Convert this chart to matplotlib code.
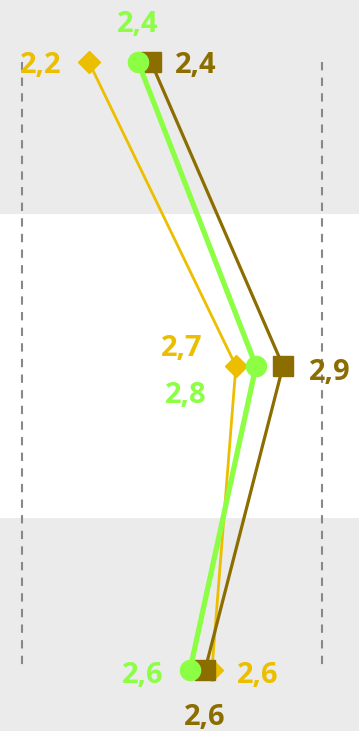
import matplotlib
matplotlib.use("Agg")
import matplotlib.pyplot as plt

# Rows (top to bottom) and series values
rows = [0, 1, 2]
yellow_vals = [2.223, 2.713, 2.633]
green_vals = [2.387, 2.780, 2.560]
brown_vals = [2.430, 2.870, 2.610]
axis_min, axis_max = 2.0, 3.0

def fmt(v):
    return f"{v:.1f}".replace(".", ",")

plt.rcParams['font.family'] = ['Open Sans', 'DejaVu Sans']

fig = plt.figure(figsize=(3.59, 7.31), dpi=100)
ax = fig.add_axes([0, 0, 1, 1])
ax.set_xlim(axis_min - 22 / 300, axis_min + 337 / 300)
ax.set_ylim(669 / 304, -62 / 304)
ax.axis('off')

grey = '#EBEBEB'
ax.axhspan(-0.5, 0.5, color=grey, zorder=0, lw=0)
ax.axhspan(0.5, 1.5, color='white', zorder=0, lw=0)
ax.axhspan(1.5, 2.5, color=grey, zorder=0, lw=0)

ax.vlines([axis_min, axis_max], rows[0], rows[-1], colors='#888888',
          linestyles=(0, (4, 3.5)), linewidth=1.5, zorder=1)

c_y, c_g, c_b = '#EBBF00', '#8CFF44', '#8B6D00'

ax.plot(yellow_vals, rows, color=c_y, lw=2.0, marker='D', ms=11, zorder=3,
        solid_capstyle='round')
ax.plot(brown_vals, rows, color=c_b, lw=2.3, marker='s', ms=14, zorder=4)
ax.plot(green_vals, rows, color=c_g, lw=3.8, marker='o', ms=14.5, zorder=5)

# label placement (pixel offsets from the point, alignment)
offsets = {
    'y': [(-27, -11, 'right'), (-33, 10, 'right'), (25, -13, 'left')],
    'g': [(0, 30, 'center'), (-49, -37, 'right'), (-27, -13, 'right')],
    'b': [(24, -11, 'left'), (26, -14, 'left'), (0, -55, 'center')],
}
for key, vals, col in [('y', yellow_vals, c_y), ('g', green_vals, c_g),
                       ('b', brown_vals, c_b)]:
    for r, v, (dx, dy, ha) in zip(rows, vals, offsets[key]):
        ax.annotate(fmt(v), (v, r), xytext=(dx, dy), textcoords='offset pixels',
                    ha=ha, va='baseline', color=col, fontsize=21,
                    fontweight='bold', zorder=6)

fig.savefig('out.png', dpi=100)
